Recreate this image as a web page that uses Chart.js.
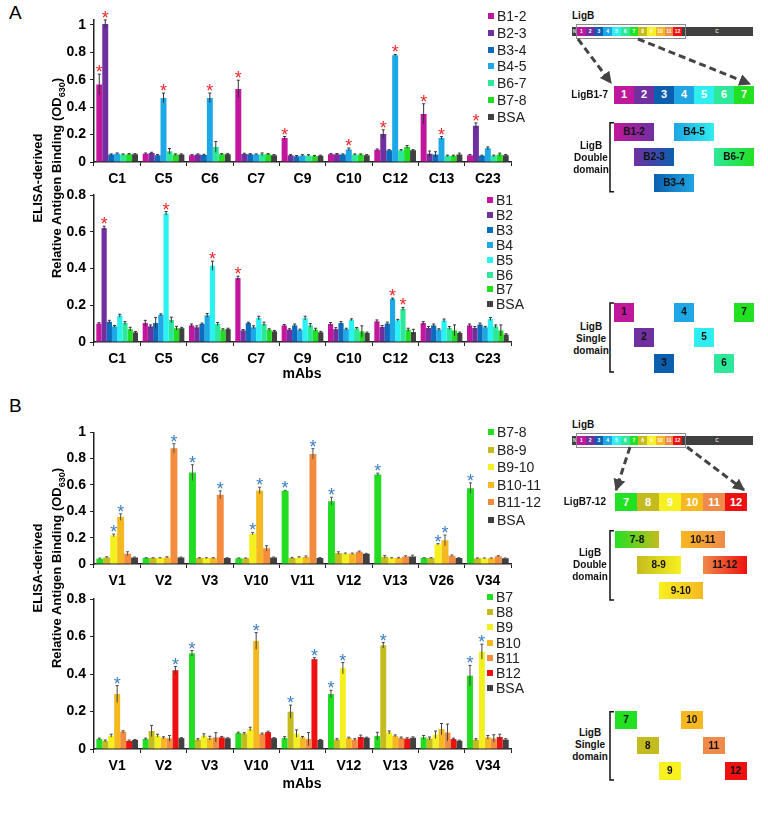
<!DOCTYPE html>
<html>
<head>
<meta charset="utf-8">
<script src="https://cdn.jsdelivr.net/npm/chart.js@4.4.1/dist/chart.umd.min.js"></script>
<style>
body { margin: 0; background: #fff; font-family: Arial, "Liberation Sans", sans-serif; }
#page { position: relative; width: 768px; height: 827px; overflow: hidden; }
canvas { position: absolute; left: 0; }
.abs { position: absolute; box-sizing: border-box; }
.ytitle { position: absolute; width: 280px; height: 40px; font-weight: bold; font-size: 13px; line-height: 19px;
  text-align: center; transform: rotate(-90deg); color: #000; }
.ytitle sub { font-size: 9px; }
.mabs { position: absolute; font-weight: bold; font-size: 14px; width: 60px; text-align: center; }
.panel { position: absolute; font-size: 19px; left: 9px; }
</style>
</head>
<body>
<div id="page">
  <div class="panel" style="top:2px">A</div>
  <div class="panel" style="top:395px">B</div>
  <canvas id="cA1" width="520" height="188" style="top:0px"></canvas>
  <canvas id="cA2" width="520" height="188" style="top:180px"></canvas>
  <canvas id="cB1" width="520" height="180" style="top:410px"></canvas>
  <canvas id="cB2" width="520" height="190" style="top:585px"></canvas>
  <div class="ytitle" style="left:-92px;top:158px">ELISA-derived<br>Relative Antigen Binding (OD<sub>630</sub>)</div>
  <div class="ytitle" style="left:-92px;top:548px">ELISA-derived<br>Relative Antigen Binding (OD<sub>630</sub>)</div>
  <div class="mabs" style="left:272px;top:365px">mAbs</div>
  <div class="mabs" style="left:272px;top:775px">mAbs</div>
</div>

<script>
// categories (mAbs)
const catsA = ['C1', 'C5', 'C6', 'C7', 'C9', 'C10', 'C12', 'C13', 'C23'];
const catsB = ['V1', 'V2', 'V3', 'V10', 'V11', 'V12', 'V13', 'V26', 'V34'];

// A top: double domains B1-7
const namesA1 = ['B1-2', 'B2-3', 'B3-4', 'B4-5', 'B6-7', 'B7-8', 'BSA'];
const colorsA1 = ['#c4169c', '#7030a0', '#0b6cbd', '#1ca9e6', '#2ee89a', '#22dd22', '#404040'];
const valsA1 = [
  [0.566, 0.061, 0.049, 0.532, 0.176, 0.056, 0.09, 0.35, 0.05],
  [1.007, 0.066, 0.054, 0.059, 0.049, 0.057, 0.205, 0.06, 0.265],
  [0.054, 0.049, 0.051, 0.056, 0.042, 0.054, 0.085, 0.055, 0.045],
  [0.061, 0.468, 0.468, 0.054, 0.048, 0.092, 0.78, 0.175, 0.1],
  [0.054, 0.078, 0.11, 0.056, 0.048, 0.054, 0.085, 0.045, 0.045],
  [0.056, 0.054, 0.056, 0.056, 0.042, 0.054, 0.11, 0.045, 0.055],
  [0.056, 0.054, 0.056, 0.049, 0.045, 0.049, 0.085, 0.055, 0.05]
];
const errA1 = [
  [0.075, 0.005, 0.005, 0.065, 0.01, 0.005, 0.005, 0.075, 0.005],
  [0.03, 0.005, 0.005, 0.005, 0.005, 0.005, 0.03, 0.02, 0.02],
  [0.005, 0.005, 0.005, 0.005, 0.005, 0.005, 0.005, 0.02, 0.005],
  [0.005, 0.035, 0.035, 0.005, 0.005, 0.01, 0.005, 0.01, 0.01],
  [0.005, 0.02, 0.04, 0.01, 0.005, 0.005, 0.005, 0.005, 0.005],
  [0.005, 0.005, 0.005, 0.005, 0.005, 0.005, 0.01, 0.005, 0.01],
  [0.005, 0.005, 0.005, 0.005, 0.005, 0.005, 0.005, 0.01, 0.005]
];
// series index with a star, per category
const starsA1 = [[0, 1], [3], [3], [0], [0], [3], [1, 3], [0, 3], [1]];

// A bottom: single domains B1-7
const namesA2 = ['B1', 'B2', 'B3', 'B4', 'B5', 'B6', 'B7', 'BSA'];
const colorsA2 = ['#c4169c', '#7030a0', '#0b6cbd', '#1ca9e6', '#2af2f2', '#2ee89a', '#22dd22', '#404040'];
const valsA2 = [
  [0.1, 0.103, 0.09, 0.348, 0.09, 0.098, 0.112, 0.103, 0.09],
  [0.62, 0.085, 0.08, 0.063, 0.067, 0.07, 0.082, 0.076, 0.076],
  [0.11, 0.103, 0.098, 0.103, 0.09, 0.103, 0.1, 0.09, 0.095],
  [0.085, 0.148, 0.145, 0.08, 0.065, 0.07, 0.234, 0.067, 0.08],
  [0.143, 0.70, 0.415, 0.13, 0.13, 0.121, 0.118, 0.117, 0.125],
  [0.103, 0.12, 0.098, 0.098, 0.09, 0.074, 0.18, 0.076, 0.085],
  [0.07, 0.075, 0.067, 0.067, 0.067, 0.058, 0.067, 0.063, 0.063],
  [0.052, 0.075, 0.07, 0.058, 0.053, 0.049, 0.054, 0.049, 0.04]
];
const errA2 = [
  [0.005, 0.015, 0.008, 0.01, 0.005, 0.008, 0.008, 0.008, 0.008],
  [0.01, 0.008, 0.008, 0.005, 0.005, 0.008, 0.008, 0.008, 0.008],
  [0.008, 0.03, 0.005, 0.005, 0.008, 0.008, 0.008, 0.008, 0.008],
  [0.005, 0.005, 0.01, 0.008, 0.005, 0.005, 0.005, 0.005, 0.005],
  [0.008, 0.01, 0.025, 0.01, 0.01, 0.005, 0.005, 0.008, 0.008],
  [0.008, 0.015, 0.008, 0.01, 0.01, 0.005, 0.008, 0.008, 0.008],
  [0.01, 0.01, 0.005, 0.005, 0.008, 0.03, 0.008, 0.03, 0.03],
  [0.005, 0.005, 0.005, 0.005, 0.005, 0.005, 0.015, 0.005, 0.005]
];
const starsA2 = [[1], [4], [4], [0], [], [], [3, 5], [], []];

// B top: double domains B7-12
const namesB1 = ['B7-8', 'B8-9', 'B9-10', 'B10-11', 'B11-12', 'BSA'];
const colorsB1 = ['#22dd22', '#c4bc1e', '#f4f020', '#f6b820', '#f48c40', '#404040'];
const valsB1 = [
  [0.04, 0.045, 0.694, 0.043, 0.556, 0.477, 0.68, 0.045, 0.576],
  [0.05, 0.045, 0.045, 0.043, 0.045, 0.083, 0.055, 0.045, 0.043],
  [0.217, 0.045, 0.045, 0.23, 0.05, 0.078, 0.045, 0.15, 0.043],
  [0.356, 0.05, 0.045, 0.558, 0.053, 0.078, 0.045, 0.18, 0.043],
  [0.078, 0.879, 0.525, 0.119, 0.836, 0.093, 0.057, 0.063, 0.058],
  [0.05, 0.05, 0.045, 0.05, 0.045, 0.078, 0.057, 0.045, 0.043]
];
const errB1 = [
  [0.005, 0.003, 0.06, 0.003, 0.003, 0.03, 0.01, 0.003, 0.04],
  [0.005, 0.003, 0.003, 0.003, 0.005, 0.01, 0.01, 0.003, 0.003],
  [0.01, 0.003, 0.003, 0.01, 0.005, 0.005, 0.003, 0.005, 0.003],
  [0.025, 0.005, 0.003, 0.025, 0.008, 0.005, 0.005, 0.04, 0.003],
  [0.015, 0.035, 0.03, 0.02, 0.04, 0.005, 0.005, 0.005, 0.005],
  [0.003, 0.003, 0.003, 0.003, 0.005, 0.003, 0.01, 0.003, 0.003]
];
const starsB1 = [[2, 3], [4], [0, 4], [2, 3], [0, 4], [0], [0], [2, 3], [0]];

// B bottom: single domains B7-12
const namesB2 = ['B7', 'B8', 'B9', 'B10', 'B11', 'B12', 'BSA'];
const colorsB2 = ['#22dd22', '#c4bc1e', '#f4f020', '#f6b820', '#f48c40', '#ee1111', '#404040'];
const valsB2 = [
  [0.053, 0.053, 0.51, 0.085, 0.058, 0.293, 0.069, 0.062, 0.391],
  [0.043, 0.096, 0.05, 0.082, 0.199, 0.05, 0.553, 0.056, 0.05],
  [0.071, 0.071, 0.071, 0.106, 0.082, 0.431, 0.088, 0.076, 0.519],
  [0.293, 0.06, 0.058, 0.576, 0.062, 0.058, 0.07, 0.106, 0.062],
  [0.092, 0.057, 0.062, 0.08, 0.053, 0.05, 0.059, 0.088, 0.056],
  [0.043, 0.42, 0.062, 0.09, 0.479, 0.064, 0.055, 0.053, 0.064],
  [0.048, 0.058, 0.057, 0.058, 0.048, 0.06, 0.06, 0.044, 0.05]
];
const errB2 = [
  [0.005, 0.005, 0.015, 0.005, 0.008, 0.02, 0.02, 0.01, 0.055],
  [0.005, 0.03, 0.005, 0.005, 0.035, 0.005, 0.015, 0.008, 0.005],
  [0.008, 0.008, 0.01, 0.01, 0.02, 0.03, 0.008, 0.02, 0.04],
  [0.045, 0.005, 0.01, 0.045, 0.005, 0.005, 0.005, 0.03, 0.01],
  [0.005, 0.015, 0.025, 0.005, 0.035, 0.005, 0.005, 0.045, 0.02],
  [0.005, 0.02, 0.005, 0.005, 0.008, 0.01, 0.005, 0.005, 0.015],
  [0.003, 0.003, 0.003, 0.003, 0.003, 0.003, 0.005, 0.003, 0.005]
];
const starsB2 = [[3], [5], [0], [3], [1, 5], [0, 2], [1], [], [0, 2]];

// domain colours for the LigB diagrams (1..12)
const domColors = ['#c0189a', '#7030a0', '#0b5fae', '#1fa6e4', '#30eef0', '#2ee89a',
  '#22e022', '#c4bc1e', '#f8f020', '#f6b820', '#ef8a4a', '#ee1111'];

const FONT = 'Arial, "Liberation Sans", sans-serif';

// error bars + significance stars
const errStar = {
  id: 'errStar',
  afterDatasetsDraw(chart, args, opts) {
    const ctx = chart.ctx, y = chart.scales.y;
    ctx.save();
    chart.data.datasets.forEach((ds, i) => {
      chart.getDatasetMeta(i).data.forEach((bar, j) => {
        const v = ds.data[j], e = ds.err[j];
        const top = y.getPixelForValue(v + e), bot = y.getPixelForValue(Math.max(v - e, 0));
        ctx.strokeStyle = opts.errColor;
        ctx.lineWidth = 1;
        ctx.beginPath();
        ctx.moveTo(bar.x, top); ctx.lineTo(bar.x, bot);
        ctx.moveTo(bar.x - 1.5, top); ctx.lineTo(bar.x + 1.5, top);
        ctx.stroke();
        if (opts.stars[j].includes(i)) {
          ctx.fillStyle = opts.starColor;
          ctx.font = '18px ' + FONT;
          ctx.textAlign = 'center';
          ctx.textBaseline = 'alphabetic';
          ctx.fillText('*', bar.x, top + 4);
        }
      });
    });
    ctx.restore();
  }
};

function makeChart(id, cats, names, colors, vals, errs, stars, starColor, errColor, ymax, padTop) {
  const datasets = names.map((n, i) => ({
    label: n, data: vals[i], err: errs[i], backgroundColor: colors[i], borderWidth: 0,
    categoryPercentage: 0.9, barPercentage: 1
  }));
  new Chart(document.getElementById(id), {
    type: 'bar',
    data: { labels: cats, datasets: datasets },
    options: {
      responsive: false,
      animation: false,
      layout: { padding: { top: padTop, right: 9, left: 0, bottom: 0 } },
      plugins: {
        legend: { display: false },
        tooltip: { enabled: false },
        errStar: { stars: stars, starColor: starColor, errColor: errColor }
      },
      scales: {
        x: {
          grid: { drawOnChartArea: false, drawTicks: true, tickLength: 4, color: '#222', offset: true },
          border: { color: '#222', width: 1.5 },
          ticks: { color: '#000', font: { family: FONT, size: 14, weight: 'bold' }, padding: 5, maxRotation: 0, autoSkip: false },
          afterFit(s) { s.height = 26; }
        },
        y: {
          min: 0, max: ymax,
          grid: { drawOnChartArea: false, tickLength: 4, color: '#222' },
          border: { color: '#222', width: 1.5 },
          ticks: {
            color: '#000', padding: 4,
            font: { family: FONT, size: 14, weight: 'bold' },
            callback: v => String(+v.toFixed(1))
          },
          afterBuildTicks(s) {
            const t = [];
            for (let v = 0; v <= s.max + 1e-9; v = +(v + 0.2).toFixed(1)) t.push({ value: v });
            s.ticks = t;
          },
          afterFit(s) { s.width = 94; }
        }
      }
    },
    plugins: [errStar]
  });
}

makeChart('cA1', catsA, namesA1, colorsA1, valsA1, errA1, starsA1, '#e8282a', '#333', 1.04, 19.5);
makeChart('cA2', catsA, namesA2, colorsA2, valsA2, errA2, starsA2, '#e8282a', '#333', 0.8, 15);
makeChart('cB1', catsB, namesB1, colorsB1, valsB1, errB1, starsB1, '#3a7fc4', '#555', 1.0, 22.3);
makeChart('cB2', catsB, namesB2, colorsB2, valsB2, errB2, starsB2, '#3a7fc4', '#444', 0.8, 14);

// ---- html pieces: legends and LigB diagrams ----
const page = document.getElementById('page');
function el(x, y, w, h, style, html) {
  const d = document.createElement('div');
  d.className = 'abs';
  Object.assign(d.style, { left: x + 'px', top: y + 'px', width: w + 'px', height: h + 'px' }, style || {});
  d.innerHTML = html || '';
  page.appendChild(d);
  return d;
}

function legend(names, colors, x, y0, step) {
  names.forEach((n, i) => {
    const cy = y0 + i * step;
    el(x, cy - 3, 6, 6, { background: colors[i] });
    el(x + 9, cy - 8, 60, 16, { fontSize: '14px', lineHeight: '16px', color: '#222', whiteSpace: 'nowrap' }, n);
  });
}
legend(namesA1, colorsA1, 488, 16, 16.8);
legend(namesA2, colorsA2, 487, 200, 14.9);
legend(namesB1, colorsB1, 488, 432, 17.5);
legend(namesB2, colorsB2, 487, 597, 15.2);

const small = { fontWeight: 'bold', fontSize: '10px', color: '#111' };

function ligbBar(y) {
  el(572, y - 17, 40, 12, Object.assign({ lineHeight: '12px' }, small), 'LigB');
  el(572, y, 181, 9, { background: '#404040' });
  el(572, y, 5, 9, { color: '#ddd', fontSize: '5px', lineHeight: '9px', textAlign: 'center', fontWeight: 'bold' }, 'N');
  for (let i = 0; i < 12; i++) {
    el(577 + i * 8.75, y, 8.75, 9, { background: domColors[i], color: '#fff', fontSize: '5px', lineHeight: '9px',
      textAlign: 'center', fontWeight: 'bold' }, String(i + 1));
  }
  el(712, y, 10, 9, { color: '#ddd', fontSize: '5px', lineHeight: '9px', textAlign: 'center', fontWeight: 'bold' }, 'C');
  el(575.5, y - 3, 110.5, 15, { border: '1px solid #8a8a8a' });
}
ligbBar(27);
ligbBar(436);

// LigB1-7 and LigB7-12 strips
el(552, 89, 56, 12, Object.assign({ lineHeight: '12px', textAlign: 'right' }, small), 'LigB1-7');
for (let i = 0; i < 7; i++) {
  el(614 + i * 20, 86, 20, 17.5, { background: domColors[i], color: '#fff', fontWeight: 'bold', fontSize: '11px',
    lineHeight: '17.5px', textAlign: 'center' }, String(i + 1));
}
el(545, 496, 61, 12, Object.assign({ lineHeight: '12px', textAlign: 'right' }, small), 'LigB7-12');
for (let i = 0; i < 6; i++) {
  el(615 + i * 22, 492.5, 22, 18, { background: domColors[6 + i], color: '#fff', fontWeight: 'bold', fontSize: '11px',
    lineHeight: '18px', textAlign: 'center' }, String(7 + i));
}

function sideText(cx, top, lines) {
  el(cx - 30, top, 60, 36, Object.assign({ lineHeight: '12px', textAlign: 'center' }, small), lines.join('<br>'));
}
sideText(591, 140, ['LigB', 'Double', 'domain']);
sideText(591, 321, ['LigB', 'Single', 'domain']);
sideText(590, 547, ['LigB', 'Double', 'domain']);
sideText(590, 727, ['LigB', 'Single', 'domain']);

function dbox(x, y, w, h, a, b, label) {
  const bg = b === null ? domColors[a] : 'linear-gradient(to right,' + domColors[a] + ',' + domColors[b] + ')';
  el(x, y, w, h, Object.assign({ background: bg, textAlign: 'center', lineHeight: h + 'px' }, small), label);
}
// panel A double / single
dbox(614, 123, 40, 17.5, 0, 1, 'B1-2');
dbox(634, 148.3, 40, 17.5, 1, 2, 'B2-3');
dbox(654, 173.5, 40, 18, 2, 3, 'B3-4');
dbox(674, 123, 40, 17.5, 3, 4, 'B4-5');
dbox(714, 148.3, 40, 17.5, 5, 6, 'B6-7');
dbox(614, 303, 20, 18.5, 0, null, '1');
dbox(634, 328, 20, 18.5, 1, null, '2');
dbox(654, 354, 20, 18.5, 2, null, '3');
dbox(674, 303, 20, 18.5, 3, null, '4');
dbox(694, 328, 20, 18.5, 4, null, '5');
dbox(714, 354, 20, 18.5, 5, null, '6');
dbox(734, 303, 20, 18.5, 6, null, '7');
// panel B double / single
dbox(615, 530.7, 44, 17.6, 6, 7, '7-8');
dbox(680.7, 530.7, 44, 17.6, 9, 10, '10-11');
dbox(636.7, 556, 44, 18, 7, 8, '8-9');
dbox(702.7, 556, 44, 18, 10, 11, '11-12');
dbox(658.7, 581.7, 44, 17.6, 8, 9, '9-10');
dbox(615, 711, 22, 18.3, 6, null, '7');
dbox(636.7, 736.7, 22, 17.6, 7, null, '8');
dbox(658.7, 761.7, 22, 18.3, 8, null, '9');
dbox(680.7, 711, 22, 18.3, 9, null, '10');
dbox(702.7, 736.7, 22, 17.6, 10, null, '11');
dbox(724.7, 761.7, 22, 18.3, 11, null, '12');

// arrows and brackets
const svgNS = 'http://www.w3.org/2000/svg';
const svg = document.createElementNS(svgNS, 'svg');
svg.setAttribute('width', 768); svg.setAttribute('height', 827);
svg.style.position = 'absolute'; svg.style.left = '0'; svg.style.top = '0';
svg.innerHTML =
  '<defs><marker id="ah" viewBox="0 0 10 10" refX="9" refY="5" markerWidth="4" markerHeight="4" orient="auto">' +
  '<path d="M0,0 L10,5 L0,10 z" fill="#444"/></marker></defs>' +
  [[578, 39, 611, 83], [638, 39, 750, 84], [630, 447, 616, 490], [687, 447, 744, 490]].map(a =>
    '<line x1="' + a[0] + '" y1="' + a[1] + '" x2="' + a[2] + '" y2="' + a[3] +
    '" stroke="#444" stroke-width="3" stroke-dasharray="7 4" marker-end="url(#ah)"/>').join('') +
  [[122.7, 191.7], [303, 372], [530.7, 600], [711.7, 780]].map(b =>
    '<path d="M614,' + b[0] + ' L610,' + b[0] + ' L610,' + b[1] + ' L614,' + b[1] +
    '" fill="none" stroke="#111" stroke-width="1.5"/>').join('');
page.appendChild(svg);
</script>
</body>
</html>
